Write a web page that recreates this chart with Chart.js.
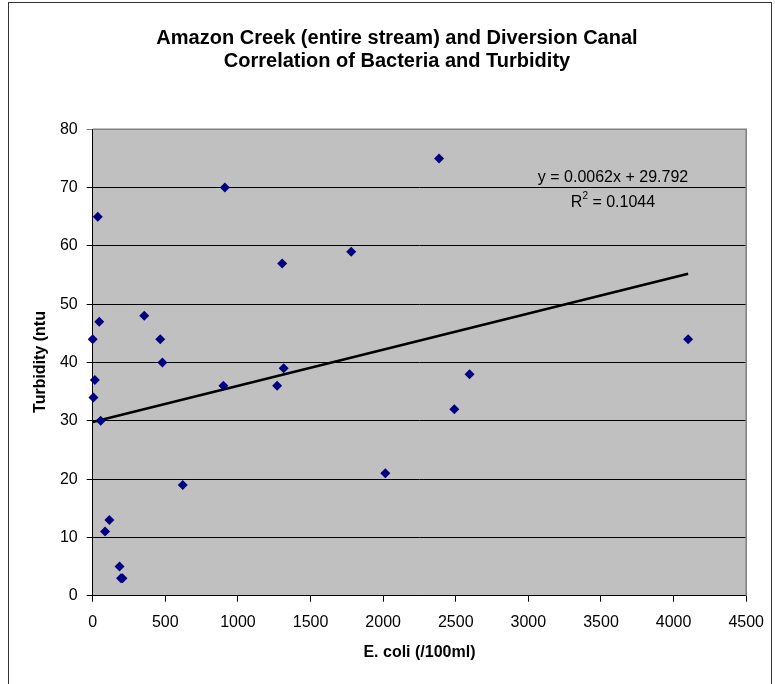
<!DOCTYPE html>
<html>
<head>
<meta charset="utf-8">
<script src="https://cdn.jsdelivr.net/npm/chart.js@4/dist/chart.umd.min.js"></script>
<style>
  html, body { margin: 0; padding: 0; background: #fff; }
  #wrap { width: 775px; height: 684px; position: relative; }
</style>
</head>
<body>
<div id="wrap"><canvas id="chart" width="775" height="684"></canvas></div>
<script>
// E. coli (/100ml) vs turbidity (ntu)
const ecoli     = [0, 15, 5, 35, 45, 55, 85, 115, 185, 195, 205, 355, 465, 480, 620, 900, 910, 1270, 1305, 1315, 1780, 2015, 2385, 2490, 2595, 4100];
const turbidity = [44, 37, 34, 65, 47, 30, 11, 13, 5, 3, 3, 48, 44, 40, 19, 36, 70, 36, 57, 39, 59, 21, 75, 32, 38, 44];

const xTicks = [0, 500, 1000, 1500, 2000, 2500, 3000, 3500, 4000, 4500];
const yTicks = [0, 10, 20, 30, 40, 50, 60, 70, 80];

// Excel trendline shown on the chart
const trendSlope = 0.0062;
const trendIntercept = 29.792;
const trendLabel = ['y = 0.0062x + 29.792', 'R', '2', ' = 0.1044'];

const titleLines = ['Amazon Creek (entire stream) and Diversion Canal', 'Correlation of Bacteria and Turbidity'];
const xTitle = 'E. coli (/100ml)';
const yTitle = 'Turbidity (ntu';

const FONT = "'Liberation Sans', Arial, sans-serif";

const points = ecoli.map((x, i) => ({ x: x, y: turbidity[i] }));
const xMax = Math.max(...ecoli);
const trend = [
    { x: 0, y: trendIntercept },
    { x: xMax, y: trendSlope * xMax + trendIntercept }
];

// plot background, frame and texts
const decor = {
    id: 'decor',
    beforeDraw(chart) {
        const ctx = chart.ctx;
        const a = chart.chartArea;
        ctx.save();
        ctx.fillStyle = '#c0c0c0';
        ctx.fillRect(a.left, a.top, a.right - a.left, a.bottom - a.top);
        ctx.strokeStyle = '#333';
        ctx.lineWidth = 1;
        ctx.strokeRect(8.5, 2.5, 763, 720);
        ctx.restore();
    },
    afterDatasetsDraw(chart) {
        const ctx = chart.ctx;
        const a = chart.chartArea;
        ctx.save();
        // top/right border of the plot area
        ctx.strokeStyle = '#808080';
        ctx.lineWidth = 1.5;
        ctx.beginPath();
        ctx.moveTo(a.left, a.top);
        ctx.lineTo(a.right, a.top);
        ctx.lineTo(a.right, a.bottom);
        ctx.stroke();

        ctx.fillStyle = '#000';
        ctx.textAlign = 'center';
        ctx.textBaseline = 'alphabetic';
        ctx.font = 'bold 20px ' + FONT;
        ctx.fillText(titleLines[0], 397, 44);
        ctx.fillText(titleLines[1], 397, 67);

        ctx.font = 'bold 16px ' + FONT;
        ctx.fillText(xTitle, (a.left + a.right) / 2, 657);

        ctx.save();
        ctx.translate(45, 362);
        ctx.rotate(-Math.PI / 2);
        ctx.fillText(yTitle, 0, 0);
        ctx.restore();

        ctx.font = '16px ' + FONT;
        ctx.fillText(trendLabel[0], 613, 182);
        // R² line, superscript drawn separately
        const wr = ctx.measureText(trendLabel[1]).width;
        const wrest = ctx.measureText(trendLabel[3]).width;
        ctx.font = '10px ' + FONT;
        const w2 = ctx.measureText(trendLabel[2]).width;
        const x0 = 613 - (wr + w2 + wrest) / 2;
        ctx.textAlign = 'left';
        ctx.fillText(trendLabel[2], x0 + wr, 199);
        ctx.font = '16px ' + FONT;
        ctx.fillText(trendLabel[1], x0, 207);
        ctx.fillText(trendLabel[3], x0 + wr + w2, 207);
        ctx.restore();
    }
};

new Chart(document.getElementById('chart'), {
    type: 'scatter',
    data: {
        datasets: [
            {
                label: 'Turbidity',
                data: points,
                pointStyle: 'rectRot',
                pointRadius: 5,
                pointHoverRadius: 5,
                backgroundColor: '#000080',
                borderColor: '#000080',
                borderWidth: 0,
                clip: false
            },
            {
                label: 'Trend',
                data: trend,
                showLine: true,
                pointRadius: 0,
                borderColor: '#000',
                borderWidth: 2.5,
                fill: false
            }
        ]
    },
    options: {
        responsive: false,
        animation: false,
        events: [],
        layout: { padding: { top: 129.3, right: 27.3, left: 0, bottom: 0 } },
        plugins: {
            legend: { display: false },
            title: { display: false },
            tooltip: { enabled: false }
        },
        scales: {
            x: {
                type: 'linear',
                min: 0,
                max: 4500,
                afterBuildTicks: s => { s.ticks = xTicks.map(v => ({ value: v })); },
                afterFit: s => { s.height = 88.3; },
                ticks: {
                    color: '#000',
                    font: { family: FONT, size: 16 },
                    padding: 11,
                    maxRotation: 0,
                    autoSkip: false,
                    callback: v => String(v)
                },
                grid: {
                    drawOnChartArea: false,
                    color: '#000',
                    tickLength: 6
                },
                border: { color: '#000', width: 1 }
            },
            y: {
                min: 0,
                max: 80,
                afterBuildTicks: s => { s.ticks = yTicks.map(v => ({ value: v })); },
                afterFit: s => { s.width = 92.7; },
                ticks: {
                    color: '#000',
                    font: { family: FONT, size: 16 },
                    padding: 9,
                    autoSkip: false,
                    callback: v => String(v)
                },
                grid: {
                    color: ctx => (ctx.tick && ctx.tick.value === 80) ? '#808080' : '#000',
                    tickLength: 6
                },
                border: { color: '#000', width: 1 }
            }
        }
    },
    plugins: [decor]
});
</script>
</body>
</html>
